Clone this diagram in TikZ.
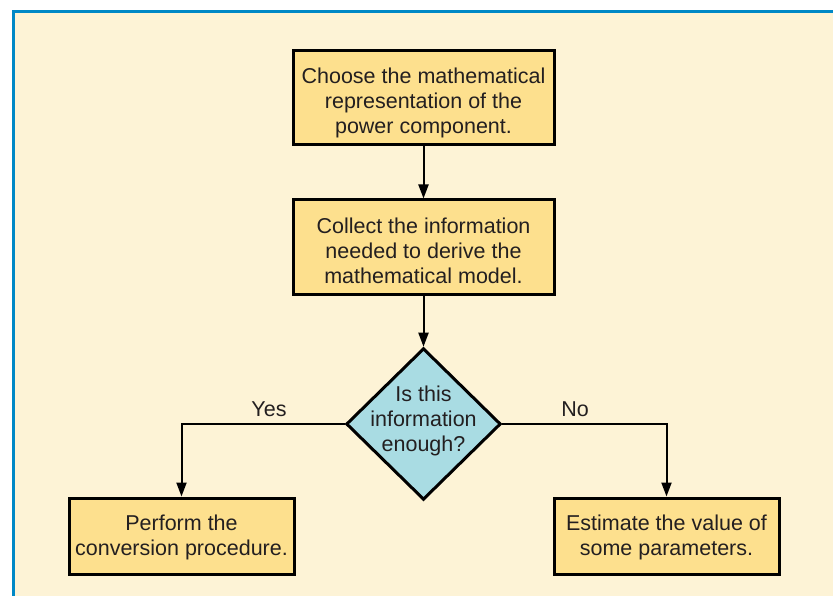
\documentclass[tikz,border=0pt]{standalone}
\usepackage{fontspec}
\setmainfont{Liberation Sans}
\usetikzlibrary{shapes.geometric,arrows.meta}
\definecolor{bgcream}{HTML}{FDF3D6}
\definecolor{boxfill}{HTML}{FDE08E}
\definecolor{diafill}{HTML}{A9DCE3}
\definecolor{frameblue}{HTML}{0088C6}
\definecolor{txt}{HTML}{231F20}
\newcommand{\mltext}[2]{\raisebox{#1}[\height][\depth]{\begin{tabular}{@{}c@{}}#2\end{tabular}}}
\tikzset{
  stepbox/.style={draw=black, line width=3pt, fill=boxfill, text=txt, align=center,
    inner sep=0pt, font=\fontsize{21.5}{25}\selectfont},
  decision/.style={diamond, draw=black, line width=3pt, fill=diafill, text=txt, align=center,
    inner sep=-7pt, aspect=1.02, font=\fontsize{21.5}{25}\selectfont},
  flow/.style={draw=black, line width=2pt, -{Triangle[length=14pt,width=10pt]}},
  lbl/.style={text=txt, font=\fontsize{21.5}{25}\selectfont, inner sep=0pt}
}
\begin{document}
\begin{tikzpicture}[x=1pt,y=-1pt]
\useasboundingbox (0,0) rectangle (833,596);
\fill[bgcream] (12,10) rectangle (833,596);
\draw[frameblue, line width=3pt] (13.5,596) -- (13.5,12) -- (833,12);
\node[stepbox, minimum width=261pt, minimum height=94pt] (b1) at (423.5,98)
  {\mltext{-6pt}{Choose the mathematical\\representation of the\\power component.}};
\node[stepbox, minimum width=261pt, minimum height=94pt] (b2) at (423.5,247)
  {\mltext{-6.5pt}{Collect the information\\needed to derive the\\mathematical model.}};
\node[decision] (d) at (423.5,424)
  {\mltext{2.5pt}{Is this\\information\\enough?}};
\node[stepbox, minimum width=225pt, minimum height=76pt] (bl) at (181.5,536)
  {\mltext{-2pt}{Perform the\\conversion procedure.}};
\node[stepbox, minimum width=225pt, minimum height=76pt] (br) at (666.5,536)
  {\mltext{-2pt}{Estimate the value of\\some parameters.}};
\node[lbl] (yes) at (269,409) {Yes};
\node[lbl] (no) at (575,409) {No};
\draw[flow] (b1.south) -- (b2.north);
\draw[flow] (b2.south) -- (d.north);
\draw[flow] (d.west) -| (bl.north);
\draw[flow] (d.east) -| (br.north);
\end{tikzpicture}
\end{document}
